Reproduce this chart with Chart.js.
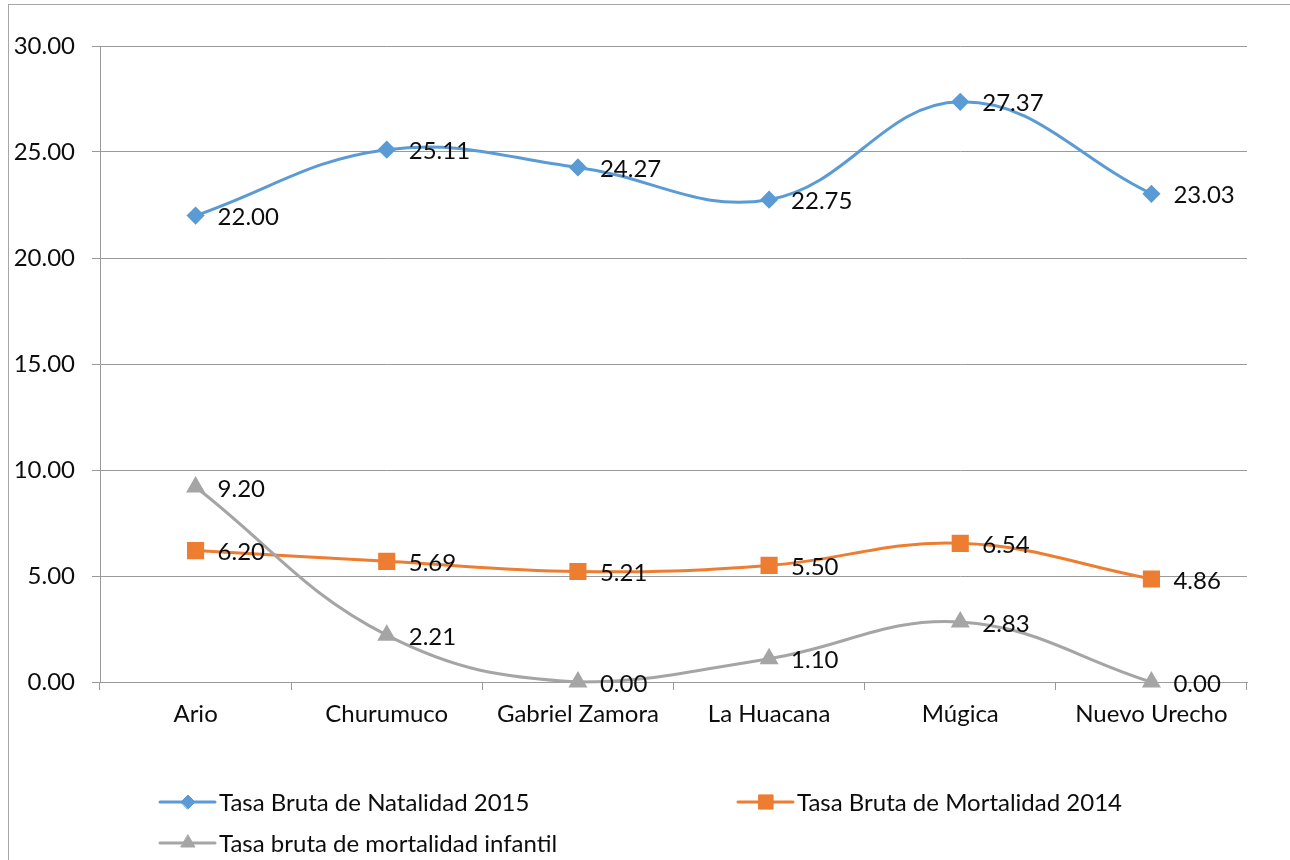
<!DOCTYPE html>
<html>
<head>
<meta charset="utf-8">
<script src="https://cdn.jsdelivr.net/npm/chart.js@4.4.1/dist/chart.umd.min.js"></script>
<style>
  html, body { margin: 0; padding: 0; background: #fff; }
  #wrap { position: relative; width: 1290px; height: 860px; }
</style>
</head>
<body>
<div id="wrap"><canvas id="chart" width="1290" height="860"></canvas></div>
<script>
// ── DATOS ──
const categories = ["Ario", "Churumuco", "Gabriel Zamora", "La Huacana", "Múgica", "Nuevo Urecho"];
const natalidad2015  = [22.00, 25.11, 24.27, 22.75, 27.37, 23.03];
const mortalidad2014 = [6.20, 5.69, 5.21, 5.50, 6.54, 4.86];
const mortInfantil   = [9.20, 2.21, 0.00, 1.10, 2.83, 0.00];
const seriesNames = [
    "Tasa Bruta de Natalidad 2015",
    "Tasa Bruta de Mortalidad 2014",
    "Tasa bruta de mortalidad infantil"
];
const yMin = 0, yMax = 30, yStep = 5;

const FONT = "Lato, 'Open Sans', sans-serif";
const FONT_SIZE = 24;
const GRID = "#9a9a9a";

// ── ETIQUETAS DE DATOS ──
const dataLabels = {
    id: "dataLabels",
    afterDatasetsDraw(chart) {
        const ctx = chart.ctx;
        ctx.save();
        ctx.font = `${FONT_SIZE}px ${FONT}`;
        ctx.fillStyle = "#0d0d0d";
        ctx.textAlign = "left";
        ctx.textBaseline = "middle";
        chart.data.datasets.forEach((ds, i) => {
            chart.getDatasetMeta(i).data.forEach((pt, j) => {
                ctx.fillText(ds.data[j].toFixed(2), pt.x + 22, pt.y + 2);
            });
        });
        ctx.restore();
    }
};

// ── LEYENDA Y BORDE ──
const excelLegend = {
    id: "excelLegend",
    beforeDraw(chart) {
        const ctx = chart.ctx;
        ctx.save();
        ctx.strokeStyle = "#a6a6a6";
        ctx.lineWidth = 1;
        ctx.strokeRect(8.5, 4.5, 1400, 1000);
        ctx.restore();
    },
    afterDraw(chart) {
        const ctx = chart.ctx;
        const slots = [
            { x: 160, y: 802 },
            { x: 738, y: 802 },
            { x: 160, y: 843 }
        ];
        ctx.save();
        chart.data.datasets.forEach((ds, i) => {
            const s = slots[i];
            ctx.strokeStyle = ds.borderColor;
            ctx.lineWidth = 3;
            ctx.lineCap = "round";
            ctx.beginPath();
            ctx.moveTo(s.x, s.y);
            ctx.lineTo(s.x + 55, s.y);
            ctx.stroke();
            ctx.fillStyle = ds.pointBackgroundColor;
            ctx.strokeStyle = ds.pointBackgroundColor;
            ctx.lineWidth = 1;
            Chart.helpers.drawPoint(ctx, {
                pointStyle: ds.pointStyle,
                radius: ds.pointRadius,
                rotation: 0,
                borderWidth: 1
            }, s.x + 28, s.y);
            ctx.font = `${FONT_SIZE}px ${FONT}`;
            ctx.fillStyle = "#0d0d0d";
            ctx.textAlign = "left";
            ctx.textBaseline = "middle";
            ctx.fillText(ds.label, s.x + 59, s.y + 1);
        });
        ctx.restore();
    }
};

function makeSeries(label, data, color, style, radius, order) {
    return {
        label: label,
        data: data,
        borderColor: color,
        backgroundColor: color,
        pointBackgroundColor: color,
        pointBorderColor: color,
        pointStyle: style,
        pointRadius: radius,
        pointHoverRadius: radius,
        borderWidth: 3,
        tension: 0.4,
        fill: false,
        clip: false,
        order: order
    };
}

new Chart(document.getElementById("chart").getContext("2d"), {
    type: "line",
    data: {
        labels: categories,
        datasets: [
            makeSeries(seriesNames[0], natalidad2015, "#5b9bd5", "rectRot", 7, 2),
            makeSeries(seriesNames[1], mortalidad2014, "#ed7d31", "rect", 10, 1),
            makeSeries(seriesNames[2], mortInfantil, "#a5a5a5", "triangle", 8, 0)
        ]
    },
    options: {
        responsive: false,
        animation: false,
        layout: { padding: { left: 0, right: 43, top: 46, bottom: 128 } },
        plugins: {
            legend: { display: false },
            tooltip: { enabled: false }
        },
        scales: {
            x: {
                offset: true,
                grid: {
                    offset: true,
                    drawOnChartArea: false,
                    color: GRID,
                    tickLength: 8
                },
                border: { color: GRID },
                ticks: {
                    color: "#0d0d0d",
                    font: { family: FONT, size: FONT_SIZE },
                    padding: 10,
                    maxRotation: 0,
                    autoSkip: false
                },
                afterFit: s => { s.height = 50; }
            },
            y: {
                min: yMin,
                max: yMax,
                grid: { color: GRID, tickLength: 8 },
                border: { color: GRID },
                ticks: {
                    stepSize: yStep,
                    color: "#0d0d0d",
                    font: { family: FONT, size: FONT_SIZE },
                    padding: 17,
                    callback: v => v.toFixed(2)
                },
                afterFit: s => { s.width = 100; }
            }
        }
    },
    plugins: [dataLabels, excelLegend]
});
</script>
</body>
</html>
